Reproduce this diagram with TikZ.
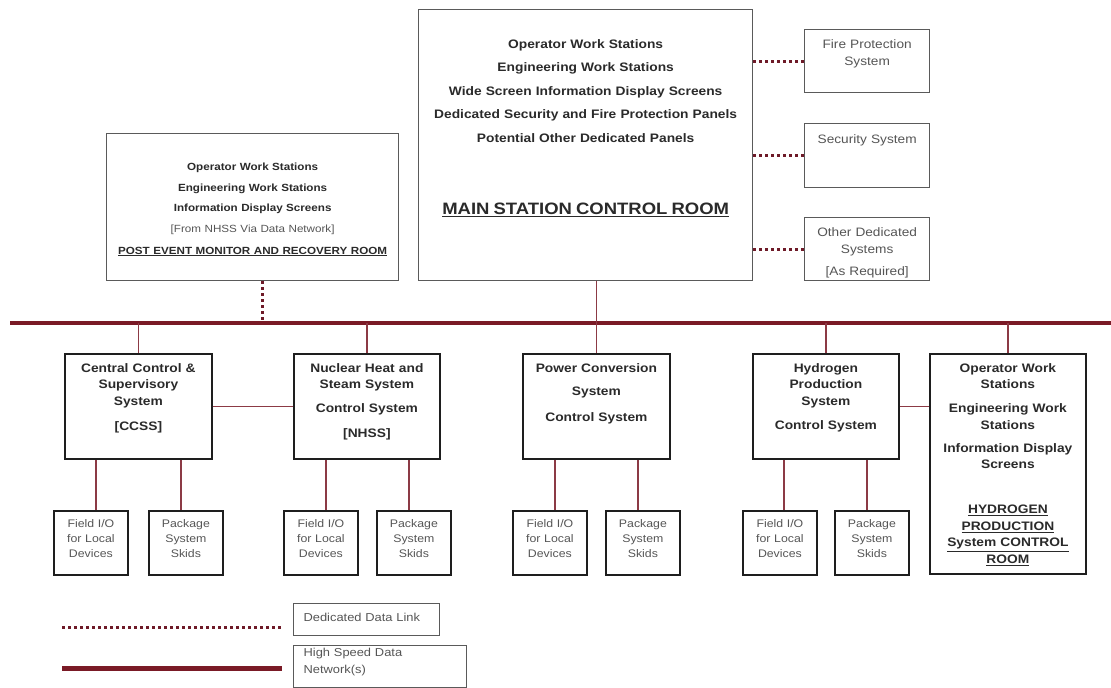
\documentclass[tikz,border=0pt]{standalone}
\usepackage{fontspec}
\setmainfont{Liberation Sans}[FakeStretch=1.12]
\usepackage{tikz}
\usetikzlibrary{positioning, calc}
\usepackage{xcolor}
\definecolor{busred}{HTML}{7A1A26}
\definecolor{linkred}{HTML}{8C3A45}
\definecolor{dotred}{HTML}{6E1A28}
\definecolor{boxdark}{HTML}{1E1E1E}
\definecolor{boxgray}{HTML}{5A5A5A}
\definecolor{txtdark}{HTML}{2A2A2A}
\definecolor{txtgray}{HTML}{555555}

\begin{document}
\begin{tikzpicture}[x=1pt, y=-1pt,
    roombox/.style={draw=boxgray, line width=1.3pt, anchor=north west, inner sep=0pt, align=center, text=txtdark},
    sysbox/.style={draw=boxdark, line width=1.8pt, anchor=north west, inner sep=0pt, align=center, text=txtdark,
      font=\fontsize{12.3}{16.5}\selectfont\bfseries},
    iobox/.style={draw=boxdark, line width=1.8pt, anchor=north west, inner sep=0pt, align=center, text=txtgray,
      text width=74pt, text height=17pt, text depth=47pt, font=\fontsize{11}{15}\selectfont},
    legbox/.style={draw=boxgray, line width=1.2pt, anchor=north west, inner ysep=0pt, inner xsep=10pt, align=left,
      text=txtgray, font=\fontsize{11.5}{17}\selectfont},
    bus/.style={busred, line width=4.5pt},
    link/.style={linkred, line width=1.8pt},
    dlink/.style={dotred, line width=3pt, dash pattern=on 3pt off 3pt}]
  \useasboundingbox (0,0) rectangle (1111,688);

  % control rooms
  \node[roombox, text width=334pt, text height=38.5pt, text depth=232.5pt,
    font=\fontsize{12.3}{23.5}\selectfont\bfseries] (main) at (418,9)
    {Operator Work Stations\\ Engineering Work Stations\\ Wide Screen Information Display Screens\\
     Dedicated Security and Fire Protection Panels\\ Potential Other Dedicated Panels\\[49pt]
     {\fontsize{16.5}{20}\selectfont\underline{MAIN STATION CONTROL ROOM}}};
  \node[roombox, text width=292pt, text height=37pt, text depth=110pt,
    font=\fontsize{10.4}{20.5}\selectfont\bfseries] (post) at (106,133)
    {Operator Work Stations\\ Engineering Work Stations\\ Information Display Screens\\
     {\mdseries\color{txtgray}[From NHSS Via Data Network]}\\[1.5pt]
     \underline{POST EVENT MONITOR AND RECOVERY ROOM}};

  % dedicated systems
  \node[roombox, text=txtgray, text width=125pt, text height=18.4pt, text depth=44.6pt,
    font=\fontsize{12.2}{17}\selectfont] (fire) at (804,29) {Fire Protection\\ System};
  \node[roombox, text=txtgray, text width=125pt, text height=19.4pt, text depth=44.6pt,
    font=\fontsize{12.2}{17}\selectfont] (secu) at (804,123) {Security System};
  \node[roombox, text=txtgray, text width=125pt, text height=18.4pt, text depth=44.6pt,
    font=\fontsize{12.2}{17}\selectfont] (other) at (804,217) {Other Dedicated\\ Systems\\[5pt] [As Required]};

  \draw[dlink] (fire.west -| main.east) -- (fire.west);
  \draw[dlink] (secu.west -| main.east) -- (secu.west);
  \draw[dlink] (other.west -| main.east) -- (other.west);

  % high speed network
  \coordinate (busL) at (10,323);
  \coordinate (busR) at (1111,323);
  \draw[bus] (busL) -- (busR);

  % control systems
  \node[sysbox, text width=147pt, text height=18.4pt, text depth=86.6pt] (ccss) at (64,353)
    {Central Control \&\\ Supervisory\\ System\\[8.5pt] [CCSS]};
  \node[sysbox, text width=146pt, text height=18.4pt, text depth=86.6pt] (nhss) at (293,353)
    {Nuclear Heat and\\ Steam System\\[7.5pt] Control System\\[8.5pt] [NHSS]};
  \node[sysbox, text width=147pt, text height=18.4pt, text depth=86.6pt] (pcs) at (522,353)
    {Power Conversion\\[7pt] System\\[9.5pt] Control System};
  \node[sysbox, text width=146pt, text height=18.4pt, text depth=86.6pt] (hps) at (752,353)
    {Hydrogen\\ Production\\ System\\[7.5pt] Control System};
  \node[sysbox, text width=156pt, text height=18.4pt, text depth=201.6pt] (hroom) at (929,353)
    {Operator Work\\ Stations\\[7.5pt] Engineering Work\\ Stations\\[6.5pt] Information Display\\ Screens\\[28.5pt]
     \underline{HYDROGEN}\\ \underline{PRODUCTION}\\ \underline{System CONTROL}\\ \underline{ROOM}};

  % field i/o and skids
  \node[iobox] (fio1) at (53,510) {Field I/O\\ for Local\\ Devices};
  \node[iobox] (pkg1) at (148,510) {Package\\ System\\ Skids};
  \node[iobox] (fio2) at (283,510) {Field I/O\\ for Local\\ Devices};
  \node[iobox] (pkg2) at (376,510) {Package\\ System\\ Skids};
  \node[iobox] (fio3) at (512,510) {Field I/O\\ for Local\\ Devices};
  \node[iobox] (pkg3) at (605,510) {Package\\ System\\ Skids};
  \node[iobox] (fio4) at (742,510) {Field I/O\\ for Local\\ Devices};
  \node[iobox] (pkg4) at (834,510) {Package\\ System\\ Skids};

  % drops to the bus
  \draw[dlink] ($(post.south)+(10,0)$) -- ($(post.south |- busL)+(10,0)$);
  \draw[link] (pcs.north |- main.south) -- (pcs.north);
  \draw[link] (ccss.north |- busL) -- (ccss.north);
  \draw[link] (nhss.north |- busL) -- (nhss.north);
  \draw[link] (hps.north |- busL) -- (hps.north);
  \draw[link] (hroom.north |- busL) -- (hroom.north);
  \draw[link] (ccss.east) -- (nhss.west);
  \draw[link] (hps.east) -- (hps.east -| hroom.west);

  \draw[link] ($(ccss.south -| fio1.north)+(5,0)$) -- ($(fio1.north)+(5,0)$);
  \draw[link] ($(ccss.south -| pkg1.north)+(-5,0)$) -- ($(pkg1.north)+(-5,0)$);
  \draw[link] ($(nhss.south -| fio2.north)+(5,0)$) -- ($(fio2.north)+(5,0)$);
  \draw[link] ($(nhss.south -| pkg2.north)+(-5,0)$) -- ($(pkg2.north)+(-5,0)$);
  \draw[link] ($(pcs.south -| fio3.north)+(5,0)$) -- ($(fio3.north)+(5,0)$);
  \draw[link] ($(pcs.south -| pkg3.north)+(-5,0)$) -- ($(pkg3.north)+(-5,0)$);
  \draw[link] ($(hps.south -| fio4.north)+(4,0)$) -- ($(fio4.north)+(4,0)$);
  \draw[link] ($(hps.south -| pkg4.north)+(-5,0)$) -- ($(pkg4.north)+(-5,0)$);

  % legend
  \node[legbox, text width=126pt, text height=18pt, text depth=14pt] (ddl) at (293,603) {Dedicated Data Link};
  \node[legbox, text width=153pt, text height=11pt, text depth=31pt] (hsd) at (293,645) {High Speed Data\\ Network(s)};
  \coordinate (dotA) at (62,627);
  \coordinate (dotB) at (282,627);
  \coordinate (netA) at (62,668);
  \coordinate (netB) at (282,668);
  \draw[dlink] (dotA) -- (dotB);
  \draw[bus, line width=5pt] (netA) -- (netB);
\end{tikzpicture}
\end{document}
